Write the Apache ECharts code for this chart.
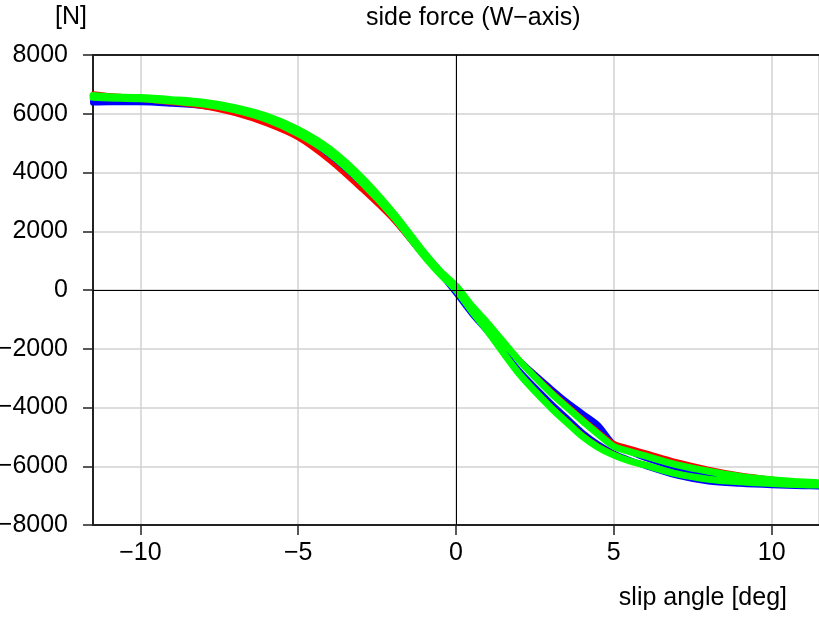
<!DOCTYPE html>
<html>
<head>
<meta charset="utf-8">
<script src="https://cdn.jsdelivr.net/npm/echarts@6/dist/echarts.min.js"></script>
<style>html,body{margin:0;padding:0;background:#fff}#c{width:819px;height:617px}</style>
</head>
<body>
<div id="c"></div>
<script>
const titleText = 'side force (W\u2212axis)';
const yUnit = '[N]';
const xName = 'slip angle [deg]';

const xs = [-11.5, -11, -10, -9, -8, -7, -6, -5, -4, -3, -2, -1, -0.5, 0, 0.5, 1, 2, 3, 3.5, 4, 4.5, 5, 5.5, 6, 7, 8, 9, 10, 11, 11.5];

const blueA  = [6420, 6420, 6410, 6360, 6280, 6120, 5820, 5380, 4640, 3700, 2560, 1250, 640, 0, -700, -1300, -2400, -3350, -3800, -4200, -4600, -5250, -5500, -5720, -6050, -6250, -6400, -6500, -6560, -6590];
const blueB  = [6380, 6390, 6390, 6340, 6260, 6080, 5760, 5300, 4560, 3600, 2460, 1150, 560, -100, -800, -1420, -2750, -3850, -4350, -4850, -5250, -5560, -5790, -5990, -6320, -6520, -6600, -6650, -6680, -6690];

const redA   = [6700, 6640, 6560, 6460, 6360, 6180, 5880, 5420, 4760, 3800, 2620, 1240, 640, 100, -560, -1150, -2350, -3400, -3880, -4350, -4800, -5200, -5370, -5520, -5830, -6080, -6280, -6420, -6540, -6600];
const redB   = [6600, 6560, 6470, 6360, 6220, 5990, 5640, 5160, 4380, 3420, 2380, 1100, 520, -20, -690, -1360, -2800, -3920, -4420, -4900, -5280, -5560, -5780, -5920, -6220, -6420, -6520, -6580, -6620, -6640];

const greenA = [6620, 6580, 6550, 6480, 6390, 6210, 5920, 5460, 4800, 3840, 2640, 1260, 640, 140, -540, -1130, -2400, -3500, -3980, -4450, -4900, -5330, -5500, -5650, -5950, -6170, -6350, -6460, -6540, -6570];
const greenB = [6560, 6540, 6510, 6430, 6330, 6130, 5810, 5320, 4640, 3680, 2520, 1150, 540, 0, -720, -1400, -2850, -4000, -4500, -4980, -5350, -5620, -5820, -5960, -6260, -6440, -6530, -6590, -6630, -6640];

function loop(a, b) {
  const d = [];
  for (let i = 0; i < xs.length; i++) d.push([xs[i], a[i]]);
  for (let i = xs.length - 1; i >= 0; i--) d.push([xs[i], b[i]]);
  return d;
}
const minus = v => String(v).replace('-', '\u2212');
const FONT = 'Liberation Sans';
const FS = 25;

const chart = echarts.init(document.getElementById('c'), null, {renderer: 'canvas'});
const curve = (name, a, b, color, w, z) => ({
  name, type: 'line', data: loop(a, b), showSymbol: false, smooth: 0.3, z,
  lineStyle: {color, width: w, join: 'round', cap: 'round'}, animation: false, silent: true
});
chart.setOption({
  animation: false,
  grid: {left: 93, right: 0, top: 55, bottom: 92, containLabel: false, outerBoundsMode: 'none'},
  textStyle: {fontFamily: FONT},
  xAxis: [{
    type: 'value', min: -11.5, max: 11.5, splitNumber: 5, position: 'bottom',
    axisLine: {show: true, onZero: false, lineStyle: {color: '#222', width: 2}},
    axisTick: {show: true, inside: false, length: 10, lineStyle: {color: '#222', width: 1.5}},
    axisLabel: {fontSize: FS, color: '#000', fontFamily: FONT, margin: 16, showMinLabel: false, showMaxLabel: false, formatter: minus},
    splitLine: {show: true, lineStyle: {color: '#d2d2d2', width: 1.5}}
  }, {
    type: 'value', min: -11.5, max: 11.5, position: 'top',
    axisLine: {show: true, onZero: false, lineStyle: {color: '#222', width: 2}},
    axisTick: {show: false}, axisLabel: {show: false}, splitLine: {show: false}
  }],
  yAxis: {
    type: 'value', min: -8000, max: 8000, interval: 2000,
    axisLine: {show: true, onZero: false, lineStyle: {color: '#222', width: 2}},
    axisTick: {show: true, inside: false, length: 10, lineStyle: {color: '#222', width: 1.5}},
    axisLabel: {fontSize: FS, color: '#000', fontFamily: FONT, margin: 25, formatter: minus},
    splitLine: {show: true, lineStyle: {color: '#d2d2d2', width: 1.5}}
  },
  graphic: [
    {type: 'text', left: 55, top: 5, style: {text: yUnit, fontSize: FS, fontFamily: FONT, fill: '#000'}},
    {type: 'text', left: 366, top: 6, style: {text: titleText, fontSize: FS, fontFamily: FONT, fill: '#000'}},
    {type: 'text', right: 32, top: 586, style: {text: xName, fontSize: FS, fontFamily: FONT, fill: '#000'}}
  ],
  series: [
    {type: 'line', data: [], z: 1, silent: true,
     markLine: {silent: true, symbol: 'none', label: {show: false}, animation: false,
       lineStyle: {color: '#000', width: 1, type: 'solid'},
       data: [{xAxis: 0}, {yAxis: 0}]}},
    curve('blue', blueA, blueB, '#0000ff', 6, 2),
    curve('red', redA, redB, '#ff0000', 4, 3),
    curve('green', greenA, greenB, '#00ff00', 7, 4)
  ]
});
</script>
</body>
</html>
